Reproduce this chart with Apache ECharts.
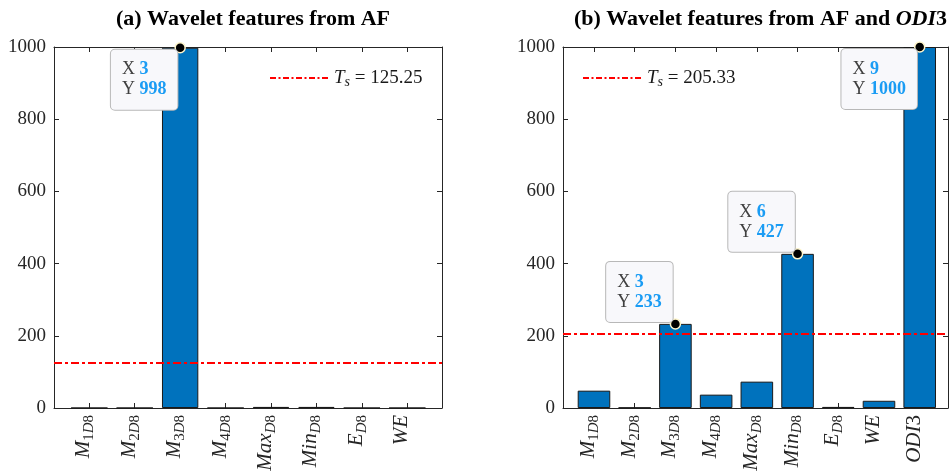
<!DOCTYPE html>
<html>
<head>
<meta charset="utf-8">
<script src="https://cdn.jsdelivr.net/npm/echarts@6/dist/echarts.min.js"></script>
<style>
  html, body { margin: 0; padding: 0; background: #fff; }
  #chart { width: 952px; height: 471px; }
</style>
</head>
<body>
<div id="chart"></div>
<script>
// Feature names as [base, subscript]
const featuresA = [['M', '1D8'], ['M', '2D8'], ['M', '3D8'], ['M', '4D8'], ['Max', 'D8'], ['Min', 'D8'], ['E', 'D8'], ['WE', '']];
const featuresB = [['M', '1D8'], ['M', '2D8'], ['M', '3D8'], ['M', '4D8'], ['Max', 'D8'], ['Min', 'D8'], ['E', 'D8'], ['WE', ''], ['ODI3', '']];

// Feature scores
const scoresA = [0, 0, 998, 0, 3, 3, 0, 0];
const scoresB = [48, 1, 233, 37, 73, 427, 3, 20, 1000];

// Selection thresholds
const thresholdA = 125.25;
const thresholdB = 205.33;

// Features annotated with a data tip (1-based positions)
const tipsA = [3];
const tipsB = [3, 6, 9];

const yTicks = [0, 200, 400, 600, 800, 1000];

const titleA = '(a) Wavelet features from AF';
const titleB = '(b) Wavelet features from AF and {i|ODI}{b|3}';

// ---------------------------------------------------------------------------
const SERIF = "'Liberation Serif', 'Times New Roman', serif";
const AXIS_COLOR = '#262626';
const BAR_COLOR = '#0072bd';
const LINE_RED = '#ff0000';
const TIP_BLUE = '#1a9cf4';

const gridA = { left: 54, top: 47, width: 388, height: 361, containLabel: false, outerBoundsMode: 'none' };
const gridB = { left: 563, top: 47, width: 385, height: 361, containLabel: false, outerBoundsMode: 'none' };
const xRangeA = [0.223, 8.764];
const xRangeB = [0.239, 9.695];

// Digits upright, letters italic; base text normal size, subscript smaller and lowered
function featureLabel(f) {
  const part = (txt, pre) => {
    let out = '';
    let buf = '';
    let cur = null;
    for (const ch of txt) {
      const kind = /\d/.test(ch) ? 'u' : 'i';
      if (kind !== cur && buf) { out += `{${pre}${cur}|${buf}}`; buf = ''; }
      cur = kind;
      buf += ch;
    }
    if (buf) out += `{${pre}${cur}|${buf}}`;
    return out;
  };
  return part(f[0], 'b') + part(f[1], 's');
}

const labelRich = {
  bi: { fontFamily: SERIF, fontStyle: 'italic', fontSize: 21, lineHeight: 26, color: AXIS_COLOR },
  bu: { fontFamily: SERIF, fontSize: 21, lineHeight: 26, color: AXIS_COLOR },
  si: { fontFamily: SERIF, fontStyle: 'italic', fontSize: 15, lineHeight: 1, verticalAlign: 'bottom', color: AXIS_COLOR },
  su: { fontFamily: SERIF, fontSize: 15, lineHeight: 1, verticalAlign: 'bottom', color: AXIS_COLOR }
};

function positions(n) {
  return Array.from({ length: n }, (_, i) => i + 1);
}

function xAxes(gridIndex, range, features) {
  const ticks = positions(features.length);
  const common = {
    type: 'value',
    gridIndex: gridIndex,
    min: range[0],
    max: range[1],
    splitLine: { show: false },
    axisLine: { show: true, onZero: false, lineStyle: { color: AXIS_COLOR, width: 1 } },
    axisTick: { show: true, inside: true, length: 5, customValues: ticks, lineStyle: { color: AXIS_COLOR } }
  };
  return [
    Object.assign({}, common, {
      position: 'bottom',
      axisLabel: {
        show: true,
        customValues: ticks,
        rotate: 90,
        margin: 7,
        padding: [0, 0, 11, 0],
        formatter: (v) => featureLabel(features[Math.round(v) - 1]),
        rich: labelRich
      }
    }),
    Object.assign({}, common, { position: 'top', axisLabel: { show: false } })
  ];
}

function yAxes(gridIndex) {
  const common = {
    type: 'value',
    gridIndex: gridIndex,
    min: yTicks[0],
    max: yTicks[yTicks.length - 1],
    interval: yTicks[1] - yTicks[0],
    splitLine: { show: false },
    axisLine: { show: true, lineStyle: { color: AXIS_COLOR, width: 1 } },
    axisTick: { show: true, inside: true, length: 5, lineStyle: { color: AXIS_COLOR } }
  };
  return [
    Object.assign({}, common, {
      position: 'left',
      axisLabel: {
        show: true, margin: 8, fontFamily: SERIF, fontSize: 19, color: AXIS_COLOR,
        formatter: (v) => String(v)
      }
    }),
    Object.assign({}, common, { position: 'right', axisLabel: { show: false } })
  ];
}

function barSeries(xIdx, yIdx, scores, threshold, grid, range) {
  const unit = grid.width / (range[1] - range[0]);
  return {
    type: 'bar',
    xAxisIndex: xIdx,
    yAxisIndex: yIdx,
    data: scores.map((v, i) => [i + 1, v]),
    barWidth: 0.8 * unit,
    itemStyle: { color: BAR_COLOR, borderColor: '#1a1a1a', borderWidth: 1 },
    markLine: {
      silent: true,
      symbol: 'none',
      label: { show: false },
      lineStyle: { color: LINE_RED, width: 2, type: [8, 3, 3, 3] },
      data: [{ yAxis: threshold }]
    },
    z: 2
  };
}

function tipSeries(xIdx, yIdx, scores, tips) {
  const top = yTicks[yTicks.length - 1];
  return {
    type: 'scatter',
    xAxisIndex: xIdx,
    yAxisIndex: yIdx,
    clip: false,
    z: 5,
    symbol: 'circle',
    symbolSize: 10,
    itemStyle: { color: '#000000', borderColor: '#fff6cc', borderWidth: 1.5, opacity: 1 },
    data: tips.map((k) => {
      const v = scores[k - 1];
      // tips near the top of the axes hang below the point, the others sit above it
      const below = v > 0.9 * top;
      return {
        value: [k, v],
        label: { verticalAlign: below ? 'top' : 'bottom', offset: below ? [0, 2] : [0, -2] }
      };
    }),
    label: {
      show: true,
      position: 'left',
      distance: -3,
      align: 'right',
      backgroundColor: '#f8f8fb',
      borderColor: '#b8b8b8',
      borderWidth: 1,
      borderRadius: 4,
      padding: [10, 11, 10, 11],
      fontFamily: SERIF,
      fontSize: 18,
      color: '#404040',
      formatter: (p) => `{k|X }{v|${p.value[0]}}\n{k|Y }{v|${p.value[1]}}`,
      rich: {
        k: { fontFamily: SERIF, fontSize: 18, lineHeight: 20, color: '#404040', align: 'left' },
        v: { fontFamily: SERIF, fontSize: 18, lineHeight: 20, fontWeight: 'bold', color: TIP_BLUE, align: 'left' }
      }
    }
  };
}

function legendGraphics(x, y, threshold) {
  return [
    {
      type: 'line',
      silent: true,
      shape: { x1: x, y1: y, x2: x + 59, y2: y },
      style: { stroke: LINE_RED, lineWidth: 2, lineDash: [6, 2.5, 2, 2.5] }
    },
    {
      type: 'text',
      silent: true,
      x: x + 64,
      y: y,
      style: {
        text: `{t|T}{s|s}{n| = ${threshold}}`,
        verticalAlign: 'middle',
        rich: {
          t: { fontFamily: SERIF, fontStyle: 'italic', fontSize: 19, lineHeight: 22, fill: '#1a1a1a' },
          s: { fontFamily: SERIF, fontStyle: 'italic', fontSize: 14, lineHeight: 3, verticalAlign: 'bottom', fill: '#1a1a1a' },
          n: { fontFamily: SERIF, fontSize: 19, lineHeight: 22, fill: '#1a1a1a' }
        }
      }
    }
  ];
}

const titleStyle = {
  fontFamily: SERIF,
  fontWeight: 'bold',
  fontSize: 22,
  color: '#000000',
  rich: {
    i: { fontFamily: SERIF, fontWeight: 'bold', fontStyle: 'italic', fontSize: 22, color: '#000000' },
    b: { fontFamily: SERIF, fontWeight: 'bold', fontSize: 22, color: '#000000' }
  }
};

const option = {
  animation: false,
  backgroundColor: '#ffffff',
  title: [
    { text: titleA, left: gridA.left + gridA.width / 2, top: 3, textAlign: 'center', textStyle: titleStyle },
    { text: titleB, left: gridB.left + gridB.width / 2, top: 3, textAlign: 'center', textStyle: titleStyle }
  ],
  grid: [gridA, gridB],
  xAxis: xAxes(0, xRangeA, featuresA).concat(xAxes(1, xRangeB, featuresB)),
  yAxis: yAxes(0).concat(yAxes(1)),
  series: [
    barSeries(0, 0, scoresA, thresholdA, gridA, xRangeA),
    tipSeries(0, 0, scoresA, tipsA),
    barSeries(2, 2, scoresB, thresholdB, gridB, xRangeB),
    tipSeries(2, 2, scoresB, tipsB)
  ],
  graphic: legendGraphics(270, 78, thresholdA).concat(legendGraphics(583, 78, thresholdB))
};

const chart = echarts.init(document.getElementById('chart'), null, { renderer: 'canvas' });
chart.setOption(option);
</script>
</body>
</html>
